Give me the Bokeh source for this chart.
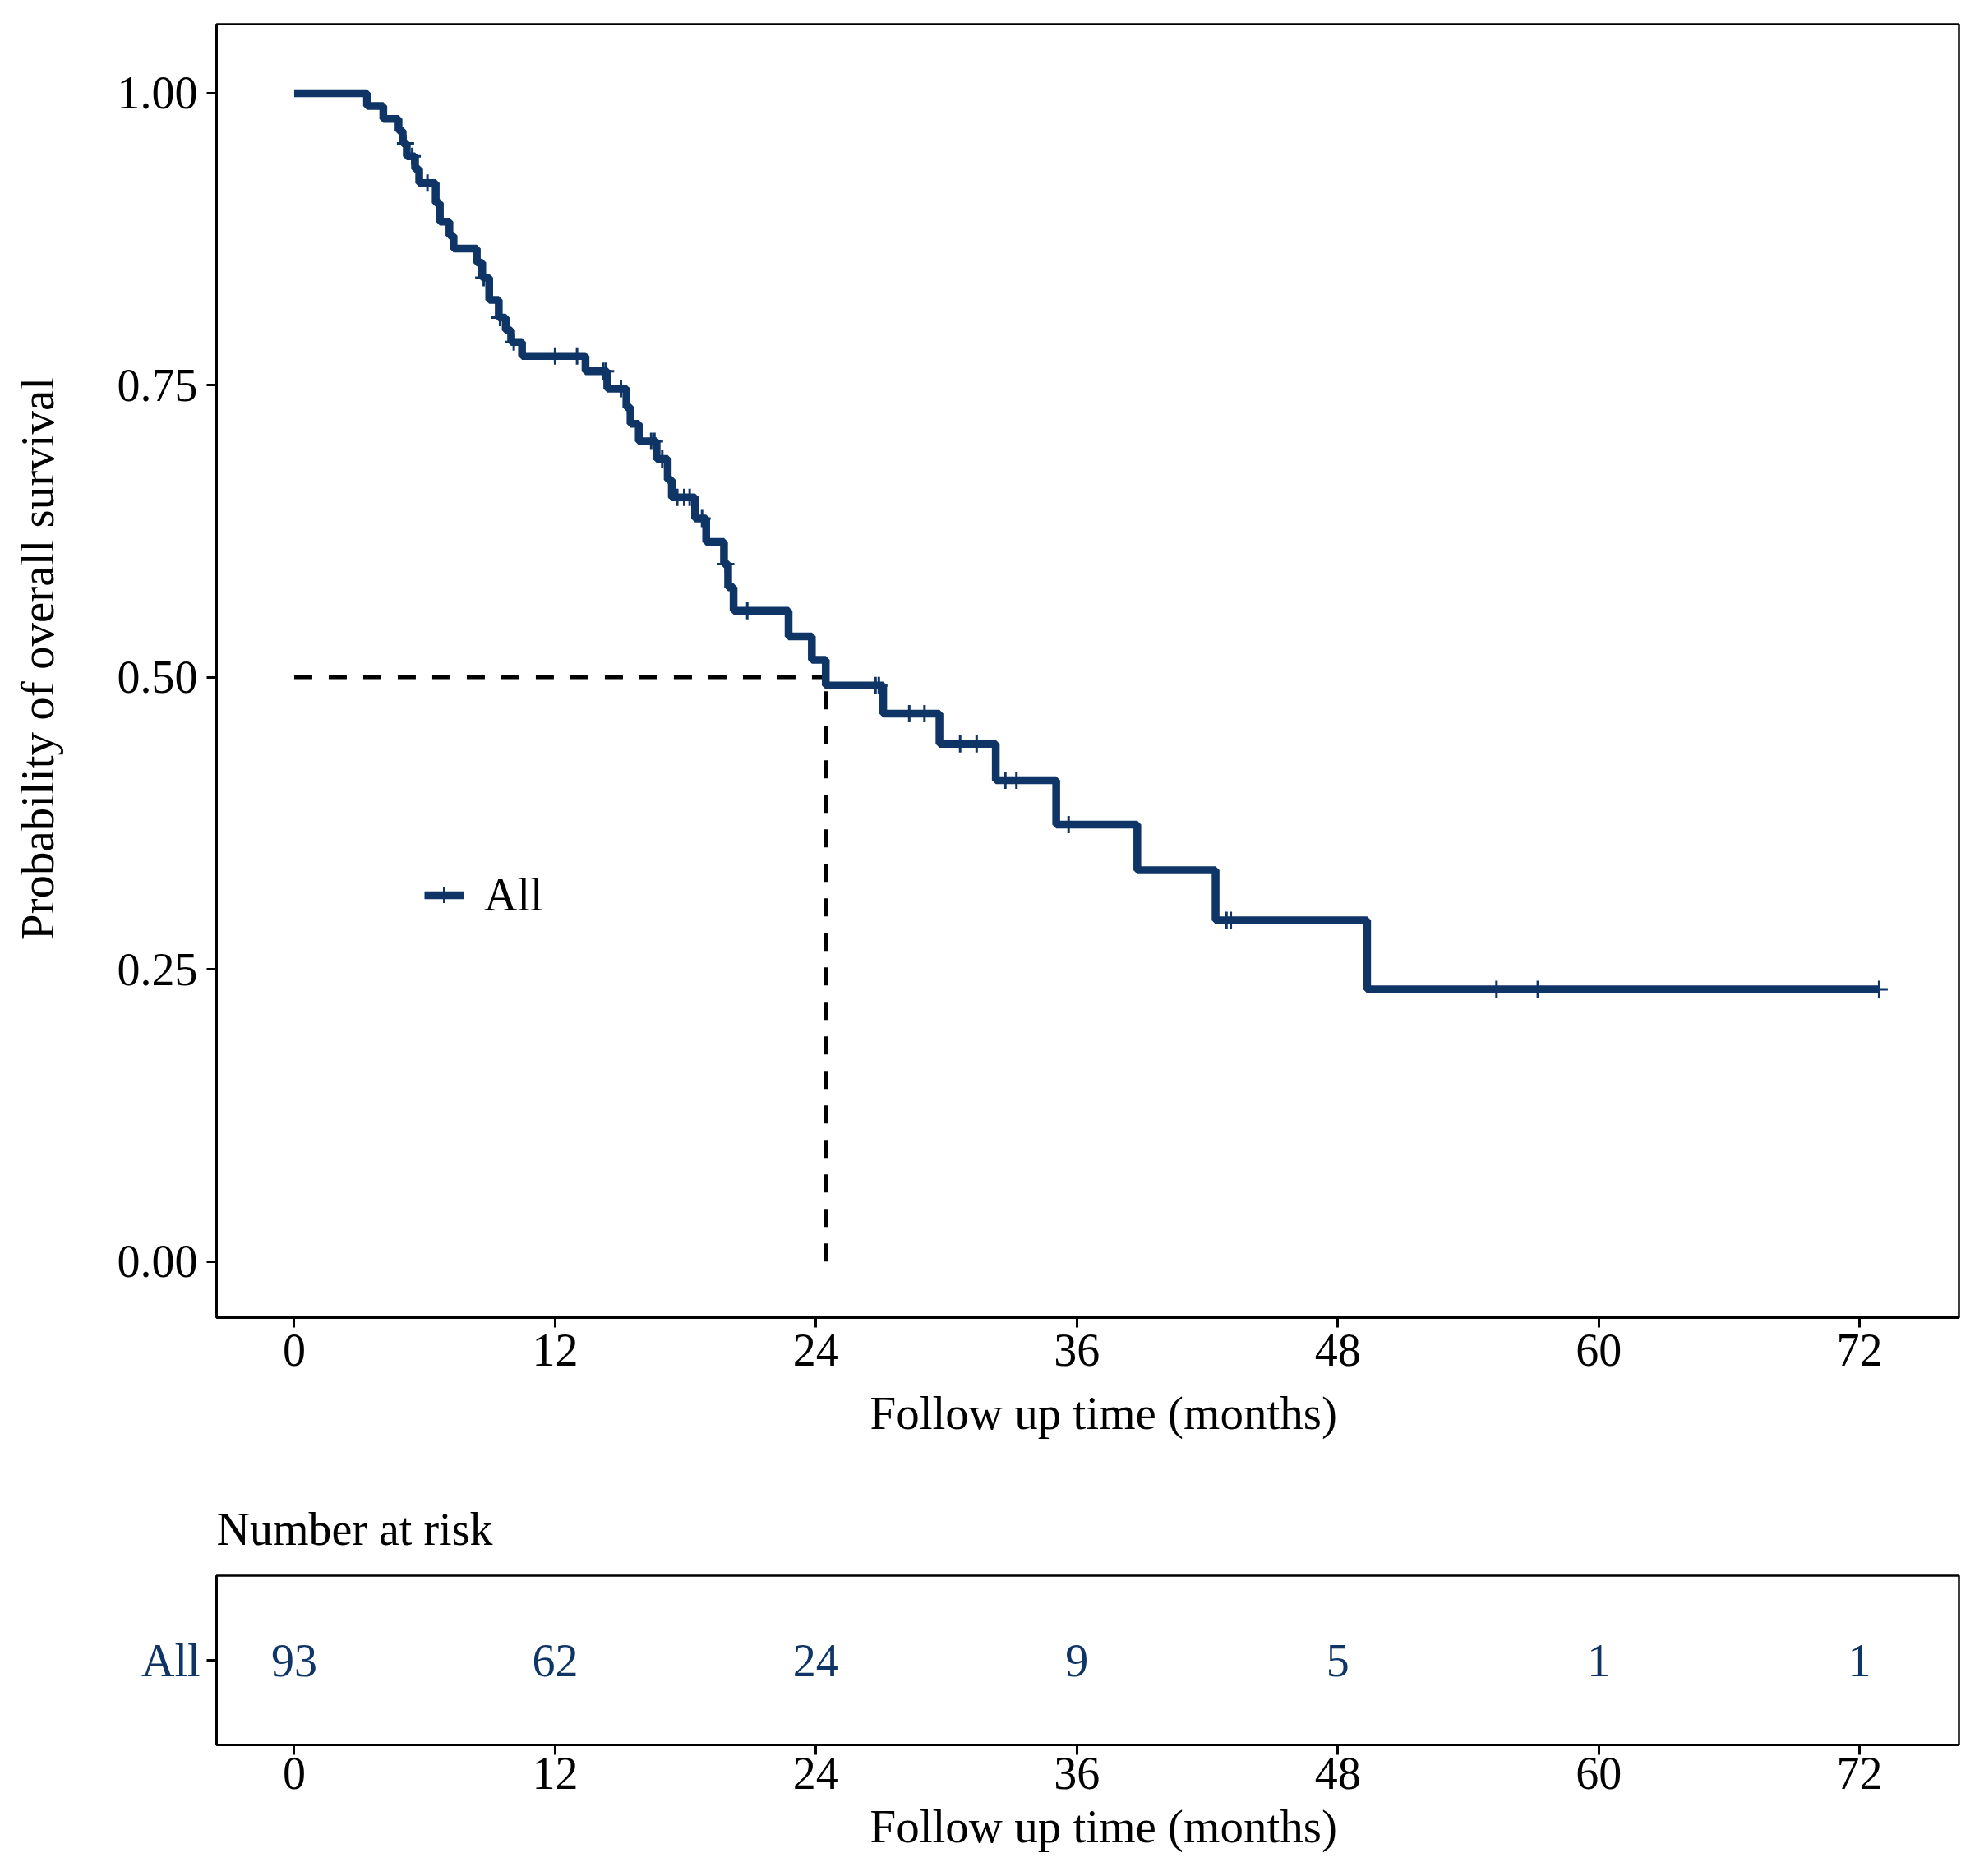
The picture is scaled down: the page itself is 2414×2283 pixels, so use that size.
from bokeh.plotting import figure
from bokeh.layouts import column
from bokeh.models import Range1d, FixedTicker, Legend, LegendItem, Title, Label
from bokeh.core.properties import value
from bokeh.embed import file_html
from bokeh.resources import INLINE
import numpy as np

# ---- data ----
event_times = [0.0, 3.35, 4.10, 4.80, 4.99, 5.18, 5.56, 5.75, 6.51, 6.70, 7.14, 7.33,
               8.40, 8.65, 8.97, 9.41, 9.73, 9.98, 10.48, 13.40, 14.40, 15.28, 15.47,
               15.85, 16.67, 17.18, 17.37, 18.44, 18.95, 19.77, 19.96, 20.21, 22.74,
               23.81, 24.45, 27.09, 29.68, 32.27, 35.05, 38.78, 42.38, 49.35]
surv_values = [1.0, 0.989, 0.978, 0.968, 0.957, 0.946, 0.935, 0.923, 0.906, 0.890, 0.878,
               0.867, 0.855, 0.842, 0.823, 0.808, 0.797, 0.787, 0.775, 0.762, 0.747,
               0.731, 0.717, 0.702, 0.687, 0.669, 0.654, 0.636, 0.616, 0.597, 0.577,
               0.557, 0.535, 0.515, 0.493, 0.469, 0.443, 0.412, 0.374, 0.335, 0.292, 0.233]
last_followup = 72.9
censor_times = [5.12, 5.43, 6.13, 8.72, 9.47, 10.1, 12.0, 13.01, 14.2, 14.32, 15.03,
                16.42, 16.57, 16.93, 17.62, 17.94, 18.19, 18.76, 19.85, 20.84, 26.74,
                26.89, 28.29, 28.99, 30.63, 31.39, 32.71, 33.22, 35.62, 42.88, 43.08,
                55.3, 57.2, 72.9]

x_ticks = [0, 12, 24, 36, 48, 60, 72]
y_ticks = [0.0, 0.25, 0.5, 0.75, 1.0]
y_tick_labels = ["0.00", "0.25", "0.50", "0.75", "1.00"]

group_name = "All"
risk_times = [0, 12, 24, 36, 48, 60, 72]
risk_counts = [93, 62, 24, 9, 5, 1, 1]

x_title = "Follow up time (months)"
y_title = "Probability of overall survival"
risk_title = "Number at risk"

NAVY = "#0f3466"
FONT = "Liberation Serif"
FS = "56px"
FS_T = "57px"

# ---- derived ----
step_x = event_times + [last_followup]
step_y = surv_values + [surv_values[-1]]
idx = np.searchsorted(event_times, censor_times, side="right") - 1
censor_y = [surv_values[i] for i in idx]
median_t = next(t for t, s in zip(event_times, surv_values) if s <= 0.5)


def style_axis(ax):
    ax.axis_line_width = 3
    ax.axis_line_color = "black"
    ax.major_tick_line_width = 3
    ax.major_tick_line_color = "black"
    ax.major_tick_out = 12
    ax.major_tick_in = 0
    ax.minor_tick_line_color = None
    ax.major_label_text_font = FONT
    ax.major_label_text_font_size = FS
    ax.major_label_text_color = "black"


def make_title(text, offset, standoff, valign):
    return Title(text=text, align="left", offset=offset, standoff=standoff,
                 vertical_align=valign, text_font=FONT, text_font_size=FS_T,
                 text_font_style="normal", text_color="black")


X_RANGE = (-3.57, 76.57)
Y_RANGE = (-0.048, 1.059)
FRAME_W = 2120
FRAME_H = 1576
W = 2393
LEFT = 263
RIGHT = 10

p = figure(width=W, height=1775, x_range=Range1d(*X_RANGE),
           y_range=Range1d(*Y_RANGE), output_backend="svg",
           toolbar_location=None, min_border_left=LEFT, min_border_right=RIGHT,
           min_border_top=29, min_border_bottom=170)
p.xgrid.visible = False
p.ygrid.visible = False
p.outline_line_color = "black"
p.outline_line_width = 2.5
p.outline_line_alpha = 1.0
p.background_fill_color = "white"
p.border_fill_color = "white"

# median lines
p.line([0, median_t], [0.5, 0.5], line_color="black", line_width=4.5, line_dash="22 20")
p.line([median_t, median_t], [0.0, 0.5], line_color="black", line_width=4.5, line_dash="22 20")

r_line = p.step(step_x, step_y, mode="after", line_color=NAVY, line_width=9.5)
r_cross = p.scatter(censor_times, censor_y, marker="cross", size=21, line_width=3,
                    line_color=NAVY)

style_axis(p.xaxis[0])
style_axis(p.yaxis[0])
p.xaxis.ticker = FixedTicker(ticks=x_ticks)
p.xaxis.major_label_standoff = 8
p.yaxis.ticker = FixedTicker(ticks=y_ticks)
p.yaxis.major_label_overrides = dict(zip(y_ticks, y_tick_labels))
p.yaxis.major_label_standoff = 11
p.add_layout(make_title(x_title, 795, 46, "top"), "below")

# y-axis title: 218 px left of the frame, 803 px above its bottom (converted to data units)
px_per_x = FRAME_W / (X_RANGE[1] - X_RANGE[0])
px_per_y = FRAME_H / (Y_RANGE[1] - Y_RANGE[0])
p.add_layout(Label(x=X_RANGE[0] - 218 / px_per_x, y=Y_RANGE[0] + 803 / px_per_y,
                   text=y_title, angle=90, angle_units="deg", text_align="center",
                   text_baseline="middle", text_font=FONT, text_font_size=FS_T,
                   text_color="black"), "left")

leg = Legend(items=[LegendItem(label=group_name, renderers=[r_line, r_cross])],
             location=(253, 482), glyph_width=48, glyph_height=62, label_height=62,
             label_standoff=25, padding=0, margin=0, border_line_color=None,
             background_fill_alpha=0, label_text_font=FONT, label_text_font_size=FS,
             label_text_color="black")
p.add_layout(leg)

# ---- risk table ----
p2 = figure(width=W, height=492, x_range=Range1d(*X_RANGE), y_range=Range1d(0, 1),
            output_backend="svg", toolbar_location=None, min_border_left=LEFT,
            min_border_right=RIGHT, min_border_top=142, min_border_bottom=140)
p2.xgrid.visible = False
p2.ygrid.visible = False
p2.outline_line_color = "black"
p2.outline_line_width = 2.5
p2.outline_line_alpha = 1.0
p2.title.text = risk_title
p2.title.align = "left"
p2.title.text_font = FONT
p2.title.text_font_size = FS
p2.title.text_font_style = "normal"
p2.title.text_color = "black"
p2.title.standoff = 52

p2.text(x=risk_times, y=[0.5] * len(risk_times), text=[str(c) for c in risk_counts],
        text_align="center", text_baseline="middle", text_font=value(FONT),
        text_font_size=FS, text_color=NAVY)

style_axis(p2.xaxis[0])
style_axis(p2.yaxis[0])
p2.xaxis.ticker = FixedTicker(ticks=x_ticks)
p2.xaxis.major_label_standoff = 3
p2.add_layout(make_title(x_title, 795, 23, "top"), "below")
p2.yaxis.ticker = FixedTicker(ticks=[0.5])
p2.yaxis.major_label_overrides = {0.5: group_name}
p2.yaxis.major_label_text_color = NAVY
p2.yaxis.major_label_standoff = 8

layout = column(p, p2)
open("out.html", "w").write(file_html(layout, INLINE))
